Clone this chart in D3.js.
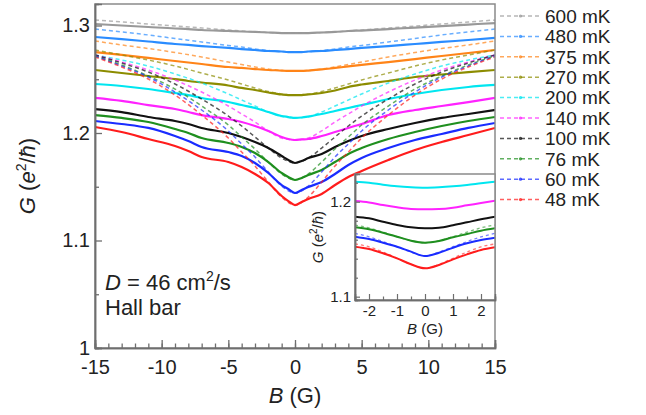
<!DOCTYPE html>
<html><head><meta charset="utf-8">
<script src="https://cdn.jsdelivr.net/npm/d3@7"></script>
<style>body{margin:0;background:#fff}svg{display:block;font-family:"Liberation Sans",Arial,sans-serif}</style>
</head><body><svg id="c" width="646" height="415"></svg>
<script>
// ---------- data ----------
const temps = ["600 mK","480 mK","375 mK","270 mK","200 mK","140 mK","100 mK","76 mK","60 mK","48 mK"];
const colors = ["#999999","#2a8cff","#ff8418","#8c8c00","#00e6f0","#ff22ff","#111111","#1f8f1f","#1a2cff","#ff1c1c"];

const fieldData = [-15,-13,-11,-9,-8,-7,-5,-4,-3,-2,-1,-0.5,0,0.5,1,2,3,4,5,7,9,11,13,15];
const g600 = [1.3014,1.3000,1.2986,1.2972,1.2967,1.2958,1.2949,1.2944,1.2940,1.2935,1.2930,1.2930,1.2930,1.2930,1.2930,1.2935,1.2940,1.2949,1.2953,1.2967,1.2981,1.2995,1.3009,1.3023];
const g480 = [1.2893,1.2874,1.2851,1.2828,1.2819,1.2809,1.2791,1.2781,1.2772,1.2763,1.2758,1.2753,1.2753,1.2753,1.2758,1.2763,1.2772,1.2781,1.2791,1.2809,1.2828,1.2847,1.2865,1.2884];
const g375 = [1.2753,1.2726,1.2698,1.2670,1.2656,1.2642,1.2614,1.2605,1.2595,1.2586,1.2581,1.2577,1.2577,1.2577,1.2581,1.2591,1.2605,1.2619,1.2633,1.2660,1.2688,1.2716,1.2744,1.2772];
const g270 = [1.2586,1.2558,1.2530,1.2502,1.2484,1.2470,1.2442,1.2419,1.2400,1.2377,1.2358,1.2353,1.2353,1.2353,1.2358,1.2372,1.2395,1.2428,1.2451,1.2484,1.2521,1.2544,1.2567,1.2586];
const g200 = [1.2456,1.2437,1.2409,1.2372,1.2353,1.2326,1.2288,1.2260,1.2233,1.2195,1.2158,1.2149,1.2140,1.2144,1.2153,1.2177,1.2205,1.2233,1.2260,1.2316,1.2363,1.2400,1.2428,1.2447];
const g140 = [1.2326,1.2298,1.2260,1.2223,1.2195,1.2167,1.2130,1.2102,1.2065,1.2019,1.1963,1.1944,1.1935,1.1940,1.1944,1.1972,1.2009,1.2047,1.2084,1.2167,1.2214,1.2251,1.2288,1.2326];
const g100 = [1.2223,1.2195,1.2149,1.2112,1.2084,1.2047,1.2000,1.1963,1.1916,1.1860,1.1786,1.1749,1.1721,1.1740,1.1767,1.1805,1.1870,1.1926,1.1972,1.2037,1.2093,1.2140,1.2177,1.2214];
const g76  = [1.2167,1.2140,1.2102,1.2037,1.2000,1.1953,1.1907,1.1870,1.1814,1.1730,1.1628,1.1591,1.1563,1.1581,1.1609,1.1656,1.1730,1.1805,1.1860,1.1944,1.2009,1.2065,1.2112,1.2149];
const g60  = [1.2112,1.2084,1.2047,1.1972,1.1926,1.1870,1.1823,1.1786,1.1721,1.1628,1.1516,1.1479,1.1442,1.1470,1.1498,1.1544,1.1619,1.1702,1.1767,1.1860,1.1935,1.1991,1.2047,1.2093];
const g48  = [1.2056,1.2009,1.1944,1.1879,1.1833,1.1777,1.1730,1.1684,1.1619,1.1535,1.1414,1.1367,1.1330,1.1358,1.1386,1.1433,1.1516,1.1591,1.1647,1.1749,1.1842,1.1916,1.1981,1.2047];

const fieldFit = [-15,-13,-11,-9,-7,-5,-4,-3,-2,-1,0,1,2,3,4,5,7,9,11,13,15];
const fit600 = [1.3051,1.3033,1.3014,1.2995,1.2977,1.2958,1.2949,1.2940,1.2935,1.2930,1.2930,1.2930,1.2935,1.2940,1.2949,1.2958,1.2977,1.2995,1.3014,1.3033,1.3051];
const fit480 = [1.2967,1.2940,1.2912,1.2879,1.2847,1.2814,1.2800,1.2781,1.2767,1.2758,1.2753,1.2758,1.2767,1.2781,1.2800,1.2814,1.2847,1.2879,1.2912,1.2940,1.2967];
const fit375 = [1.2856,1.2819,1.2786,1.2749,1.2707,1.2660,1.2637,1.2614,1.2595,1.2581,1.2577,1.2581,1.2595,1.2614,1.2637,1.2660,1.2707,1.2749,1.2786,1.2819,1.2856];
const fit270 = [1.2772,1.2726,1.2679,1.2623,1.2558,1.2493,1.2456,1.2419,1.2386,1.2363,1.2353,1.2363,1.2386,1.2419,1.2456,1.2493,1.2558,1.2623,1.2679,1.2726,1.2772];
const fit200 = [1.2726,1.2679,1.2623,1.2549,1.2465,1.2363,1.2307,1.2251,1.2195,1.2153,1.2140,1.2153,1.2195,1.2251,1.2307,1.2363,1.2465,1.2549,1.2623,1.2679,1.2726];
const fit140 = [1.2726,1.2660,1.2586,1.2493,1.2381,1.2251,1.2177,1.2102,1.2019,1.1953,1.1935,1.1953,1.2019,1.2102,1.2177,1.2251,1.2381,1.2493,1.2586,1.2660,1.2726];
const fit100 = [1.2726,1.2651,1.2567,1.2456,1.2316,1.2158,1.2065,1.1963,1.1860,1.1767,1.1721,1.1767,1.1860,1.1963,1.2065,1.2158,1.2316,1.2456,1.2567,1.2651,1.2726];
const fit76  = [1.2716,1.2633,1.2530,1.2409,1.2251,1.2074,1.1963,1.1851,1.1730,1.1619,1.1563,1.1619,1.1730,1.1851,1.1963,1.2074,1.2251,1.2409,1.2530,1.2633,1.2716];
const fit60  = [1.2716,1.2623,1.2521,1.2381,1.2214,1.2019,1.1898,1.1777,1.1637,1.1507,1.1442,1.1507,1.1637,1.1777,1.1898,1.2019,1.2214,1.2381,1.2521,1.2623,1.2716];
const fit48  = [1.2707,1.2614,1.2502,1.2353,1.2167,1.1953,1.1823,1.1693,1.1544,1.1405,1.1330,1.1405,1.1544,1.1693,1.1823,1.1953,1.2167,1.2353,1.2502,1.2614,1.2707];

const fieldInset = [-2.5,-2,-1.5,-1,-0.5,0,0.5,1,1.5,2,2.5];
const in200 = [1.2211,1.2200,1.2179,1.2162,1.2152,1.2147,1.2152,1.2162,1.2176,1.2194,1.2211];
const in140 = [1.2007,1.1993,1.1965,1.1941,1.1923,1.1920,1.1923,1.1937,1.1962,1.1986,1.2011];
const in100 = [1.1842,1.1825,1.1789,1.1755,1.1730,1.1720,1.1726,1.1752,1.1783,1.1815,1.1842];
const in76  = [1.1730,1.1709,1.1674,1.1632,1.1589,1.1568,1.1586,1.1625,1.1660,1.1695,1.1720];
const in60  = [1.1632,1.1607,1.1568,1.1526,1.1474,1.1428,1.1463,1.1516,1.1562,1.1597,1.1621];
const in48  = [1.1527,1.1502,1.1457,1.1404,1.1341,1.1299,1.1334,1.1393,1.1446,1.1492,1.1520];
const inFit76 = [1.1755,1.1725,1.1680,1.1632,1.1590,1.1568,1.1590,1.1632,1.1680,1.1725,1.1755];
const inFit60 = [1.1667,1.1630,1.1580,1.1526,1.1470,1.1428,1.1470,1.1526,1.1580,1.1630,1.1667];
const inFit48 = [1.1555,1.1525,1.1470,1.1405,1.1340,1.1300,1.1340,1.1405,1.1470,1.1525,1.1555];

const xTicksMain = [-15,-10,-5,0,5,10,15];
const yTicksMain = [1,1.1,1.2,1.3];
const xTicksInset = [-2,-1,0,1,2];
const yTicksInset = [1.1,1.2];

const solidSeries = [g600,g480,g375,g270,g200,g140,g100,g76,g60,g48];
const fitSeries = [fit600,fit480,fit375,fit270,fit200,fit140,fit100,fit76,fit60,fit48];
const insetSeries = [[in200,4],[in140,5],[in100,6],[in76,7],[in60,8],[in48,9]];
const insetFitSeries = [[inFit76,7],[inFit60,8],[inFit48,9]];

// ---------- drawing ----------
const svg = d3.select("#c");
const axisColor = "#6e6e6e";
const x = d3.scaleLinear().domain([-15,15]).range([95,495]);
const y = d3.scaleLinear().domain([1,1.32]).range([348,4]);

svg.append("defs").append("clipPath").attr("id","clipMain")
  .append("rect").attr("x",95).attr("y",4).attr("width",400).attr("height",344);

const line = (xs, xsc, ysc) => d3.line().x((d,i)=>xsc(xs[i])).y(d=>ysc(d)).curve(d3.curveMonotoneX);

const gMain = svg.append("g").attr("clip-path","url(#clipMain)");
solidSeries.forEach((s,i)=>{
  gMain.append("path").attr("d", line(fieldData,x,y)(s)).attr("fill","none")
    .attr("stroke",colors[i]).attr("stroke-width",2.2);
});
fitSeries.forEach((s,i)=>{
  gMain.append("path").attr("d", line(fieldFit,x,y)(s)).attr("fill","none")
    .attr("stroke",colors[i]).attr("stroke-width",1.5).attr("stroke-dasharray","4,3").attr("opacity",0.7);
});

// frame
svg.append("rect").attr("x",95).attr("y",4).attr("width",400).attr("height",344)
  .attr("fill","none").attr("stroke","#8a8a8a").attr("stroke-width",1.5);

// main axes
const fs = 20;
const xAxis = svg.append("g").attr("transform","translate(0,348)")
  .call(d3.axisBottom(x).tickValues(xTicksMain).tickSize(-8).tickPadding(12).tickFormat(d=>d<0?"-"+Math.abs(d):d));
const xMinor = svg.append("g").attr("transform","translate(0,348)")
  .call(d3.axisBottom(x).tickValues(d3.range(-15,16,1)).tickSize(-4.5).tickFormat(""));
const yAxis = svg.append("g").attr("transform","translate(95,0)")
  .call(d3.axisLeft(y).tickValues(yTicksMain).tickSize(-7).tickPadding(5).tickFormat(d=>d===1?"1":d3.format(".1f")(d)));
const yMinor = svg.append("g").attr("transform","translate(95,0)")
  .call(d3.axisLeft(y).tickValues([1.05,1.15,1.25]).tickSize(-4).tickFormat(""));
[xAxis,xMinor,yAxis,yMinor].forEach(g=>{
  g.select(".domain").attr("stroke",axisColor).attr("stroke-width",1.5);
  g.selectAll(".tick line").attr("stroke",axisColor).attr("stroke-width",1.3);
  g.selectAll(".tick text").attr("font-size",fs).attr("fill","#222").attr("font-family","Liberation Sans, Arial, sans-serif");
});

// axis labels
const xl = svg.append("text").attr("x",295).attr("y",403).attr("text-anchor","middle").attr("font-size",22).attr("fill","#222");
xl.append("tspan").attr("font-style","italic").text("B");
xl.append("tspan").text(" (G)");

const yl = svg.append("text").attr("transform","translate(35,176) rotate(-90)").attr("text-anchor","middle").attr("font-size",22).attr("fill","#222");
yl.append("tspan").attr("font-style","italic").text("G");
yl.append("tspan").text(" (");
yl.append("tspan").attr("font-style","italic").text("e");
yl.append("tspan").attr("font-size",14).attr("dy",-9).text("2");
yl.append("tspan").attr("dy",9).text("/");
yl.append("tspan").attr("font-style","italic").text("ħ");
yl.append("tspan").text(")");

// annotation
const an = svg.append("text").attr("x",105).attr("y",290).attr("font-size",22).attr("fill","#222");
an.append("tspan").attr("font-style","italic").text("D");
an.append("tspan").text(" = 46 cm");
an.append("tspan").attr("font-size",14).attr("dy",-9).text("2");
an.append("tspan").attr("dy",9).text("/s");
svg.append("text").attr("x",105).attr("y",315).attr("font-size",22).attr("fill","#222").text("Hall bar");

// legend
const lg = svg.append("g");
temps.forEach((t,i)=>{
  const yy = 16 + i*20.4;
  lg.append("line").attr("x1",500).attr("x2",541).attr("y1",yy).attr("y2",yy)
    .attr("stroke",colors[i]).attr("stroke-width",1.5).attr("stroke-dasharray","4,3").attr("opacity",0.7);
  lg.append("circle").attr("cx",520.5).attr("cy",yy).attr("r",1.6).attr("fill",colors[i]).attr("opacity",0.8);
  lg.append("text").attr("x",545).attr("y",yy).attr("dy","0.36em").attr("font-size",19).attr("fill","#222").text(t);
});

// ---------- inset ----------
const xi = d3.scaleLinear().domain([-2.5,2.5]).range([355,495]);
const yi = d3.scaleLinear().domain([1.0965,1.2292]).range([300,174]);
svg.append("rect").attr("x",355).attr("y",174).attr("width",140).attr("height",126).attr("fill","#fff");
svg.append("defs").append("clipPath").attr("id","clipInset")
  .append("rect").attr("x",355).attr("y",174).attr("width",140).attr("height",126);
const gIn = svg.append("g").attr("clip-path","url(#clipInset)");
insetSeries.forEach(([s,ci])=>{
  gIn.append("path").attr("d", line(fieldInset,xi,yi)(s)).attr("fill","none")
    .attr("stroke",colors[ci]).attr("stroke-width",2);
});
insetFitSeries.forEach(([s,ci])=>{
  gIn.append("path").attr("d", line(fieldInset,xi,yi)(s)).attr("fill","none")
    .attr("stroke",colors[ci]).attr("stroke-width",1.3).attr("stroke-dasharray","3,3").attr("opacity",0.6);
});
svg.append("rect").attr("x",355).attr("y",174).attr("width",140).attr("height",126)
  .attr("fill","none").attr("stroke","#8a8a8a").attr("stroke-width",1.5);

const xiAxis = svg.append("g").attr("transform","translate(0,300)")
  .call(d3.axisBottom(xi).tickValues(xTicksInset).tickSize(-6).tickPadding(5).tickFormat(d=>d<0?"-"+Math.abs(d):d));
const xiMinor = svg.append("g").attr("transform","translate(0,300)")
  .call(d3.axisBottom(xi).tickValues([-2.5,-1.5,-0.5,0.5,1.5,2.5]).tickSize(-3.5).tickFormat(""));
const yiAxis = svg.append("g").attr("transform","translate(355,0)")
  .call(d3.axisLeft(yi).tickValues(yTicksInset).tickSize(-5).tickPadding(4).tickFormat(d3.format(".1f")));
const yiMinor = svg.append("g").attr("transform","translate(355,0)")
  .call(d3.axisLeft(yi).tickValues([1.12,1.14,1.16,1.18,1.22]).tickSize(-3).tickFormat(""));
[xiAxis,xiMinor,yiAxis,yiMinor].forEach(g=>{
  g.select(".domain").attr("stroke",axisColor).attr("stroke-width",1.5);
  g.selectAll(".tick line").attr("stroke",axisColor).attr("stroke-width",1.2);
  g.selectAll(".tick text").attr("font-size",15).attr("fill","#222").attr("font-family","Liberation Sans, Arial, sans-serif");
});
const xil = svg.append("text").attr("x",425).attr("y",334).attr("text-anchor","middle").attr("font-size",15).attr("fill","#222");
xil.append("tspan").attr("font-style","italic").text("B");
xil.append("tspan").text(" (G)");
const yil = svg.append("text").attr("transform","translate(323,237) rotate(-90)").attr("text-anchor","middle").attr("font-size",15).attr("fill","#222");
yil.append("tspan").attr("font-style","italic").text("G");
yil.append("tspan").text(" (");
yil.append("tspan").attr("font-style","italic").text("e");
yil.append("tspan").attr("font-size",10).attr("dy",-6).text("2");
yil.append("tspan").attr("dy",6).text("/");
yil.append("tspan").attr("font-style","italic").text("ħ");
yil.append("tspan").text(")");
</script></body></html>
